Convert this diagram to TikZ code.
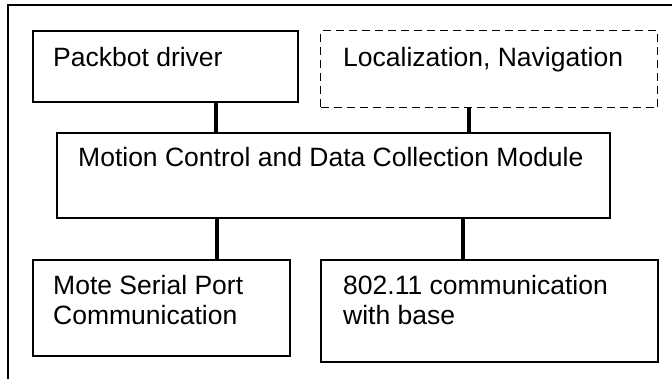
\documentclass[tikz,border=0pt]{standalone}
\usepackage{fontspec}
\setmainfont{Liberation Sans}
\begin{document}
\begin{tikzpicture}[x=1pt,y=-1pt,
  box/.style={draw=black,line width=1.6pt,rectangle,inner sep=0pt,anchor=north west},
  dbox/.style={box,line width=1.4pt,dash pattern=on 8pt off 5pt},
  lbl/.style={anchor=base west,inner sep=0pt,font=\fontsize{26.5}{30}\selectfont},
  conn/.style={draw=black,line width=4.5pt}]
\useasboundingbox (0,0) rectangle (672,379);
\draw[line width=1.5pt] (8,379) -- (8,5) -- (672,5);
% boxes
\node[box,minimum width=265pt,minimum height=71pt] (pb) at (32,30) {};
\node[dbox,minimum width=337pt,minimum height=77pt] (ln) at (320,30) {};
\node[box,minimum width=553pt,minimum height=85pt] (mc) at (56,132) {};
\node[box,minimum width=257pt,minimum height=96pt] (ms) at (32,259) {};
\node[box,minimum width=337pt,minimum height=102pt] (wl) at (320,259) {};
% labels
\node[lbl] (tpb) at (53,67) {Packbot driver};
\node[lbl] (tln) at (343,67) {Localization, Navigation};
\node[lbl] (tmc) at (78,167) {Motion Control and Data Collection Module};
\node[lbl] (tms1) at (53,295) {Mote Serial Port};
\node[lbl] (tms2) at (53,325) {Communication};
\node[lbl] (twl1) at (343,295) {802.11 communication};
\node[lbl] (twl2) at (343,325) {with base};
% connectors
\coordinate (c1) at (216,0);
\coordinate (c2) at (469,0);
\coordinate (c3) at (217,0);
\coordinate (c4) at (463,0);
\draw[conn] (pb.south -| c1) -- (mc.north -| c1);
\draw[conn] (ln.south -| c2) -- (mc.north -| c2);
\draw[conn] (mc.south -| c3) -- (ms.north -| c3);
\draw[conn] (mc.south -| c4) -- (wl.north -| c4);
\end{tikzpicture}
\end{document}
